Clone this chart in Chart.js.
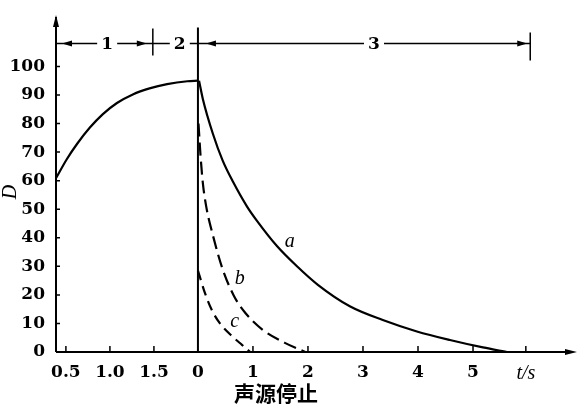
<!DOCTYPE html>
<html>
<head>
<meta charset="utf-8">
<script src="https://cdn.jsdelivr.net/npm/chart.js@4.4.1/dist/chart.umd.min.js"></script>
<style>
    html, body { margin: 0; padding: 0; background: #fff; }
    canvas { display: block; }
</style>
</head>
<body>
<canvas id="chart" width="582" height="414"></canvas>
<script>
// Growth phase: time since the source was switched on (s) and D
const growthT = [0.39, 0.51, 0.63, 0.77, 0.92, 1.08, 1.26, 1.45, 1.65, 1.88, 2.0];
const growthD = [61, 67.5, 73, 78.5, 83.3, 87.2, 90.2, 92.3, 93.8, 94.8, 95];

// Decay after the source stops: time (s) and D for curves a, b, c
const decayAT = [0.02, 0.09, 0.27, 0.45, 0.64, 0.89, 1.07, 1.44, 1.80, 2.18, 2.76, 3.36, 3.98, 4.58, 5.18, 5.62];
const decayAD = [95, 88.5, 76.5, 67, 59.5, 51, 46, 37, 30, 23.5, 16, 11.2, 7.2, 4.2, 1.6, 0];
const decayBT = [0.01, 0.05, 0.09, 0.15, 0.27, 0.44, 0.65, 0.87, 1.18, 1.58, 1.95];
const decayBD = [80, 68, 59, 51, 41, 29.5, 19.8, 13.5, 7.7, 3.2, 0];
const decayCT = [0.0, 0.13, 0.25, 0.4, 0.64, 0.8, 0.95];
const decayCD = [28.5, 20.5, 14.8, 10, 5.2, 2.5, 0];

// Tick labels
const growthTicks = [0.5, 1.0, 1.5];
const growthTickLabels = ['0.5', '1.0', '1.5'];
const decayTicks = [0, 1, 2, 3, 4, 5];
const decayTickLabels = ['0', '1', '2', '3', '4', '5'];
const yTicks = [0, 10, 20, 30, 40, 50, 60, 70, 80, 90, 100];

// Phases marked along the top
const phaseNames = ['1', '2', '3'];
const phaseEdges = [-0.82, 0, 6.04];
const phaseLabelAt = [-1.65, -0.33, 3.2];

// the growth phase is drawn on its own (compressed) time scale left of the stop
const GROWTH_END = 2.0;
const GROWTH_SCALE = 1.6;
const toAxis = t => (t - GROWTH_END) * GROWTH_SCALE;

const X_MIN = -2.58;
const X_MAX = 6.89;
const UNIT_POS = 5.96;   // where "t/s" sits
const PHASE_Y = 108;

const xTickValues = growthTicks.map(toAxis).concat(decayTicks, [UNIT_POS]);
const xTickLabels = growthTickLabels.concat(decayTickLabels, ['t/s']);

const pts = (xs, ys, f = v => v) => xs.map((v, i) => ({ x: f(v), y: ys[i] }));

const TICK_FONT = { family: 'DejaVu Serif', size: 17, weight: 'bold' };
const ITALIC = 'italic 20px "Liberation Serif", serif';

const lineStyle = {
    borderColor: '#000',
    borderWidth: 2.2,
    pointRadius: 0,
    fill: false,
    cubicInterpolationMode: 'monotone'
};

function arrow(ctx, x, y, dir, len = 10, half = 3.5) {
    // dir: 'left' | 'right' | 'up'
    ctx.beginPath();
    if (dir === 'up') {
        ctx.moveTo(x, y);
        ctx.lineTo(x - half, y + len);
        ctx.lineTo(x + half, y + len);
    } else {
        const s = dir === 'left' ? 1 : -1;
        ctx.moveTo(x, y);
        ctx.lineTo(x + s * len, y - half);
        ctx.lineTo(x + s * len, y + half);
    }
    ctx.closePath();
    ctx.fill();
}

const overlay = {
    id: 'overlay',
    afterDatasetsDraw(chart) {
        const { ctx, chartArea } = chart;
        const xs = chart.scales.x;
        const ys = chart.scales.y;
        const x0 = chartArea.left;
        const yBase = ys.getPixelForValue(0);

        ctx.save();
        ctx.strokeStyle = '#000';
        ctx.fillStyle = '#000';
        ctx.lineWidth = 2;

        // axes with arrow heads
        ctx.beginPath();
        ctx.moveTo(x0, yBase);
        ctx.lineTo(x0, chartArea.top + 2);
        ctx.moveTo(x0, yBase);
        ctx.lineTo(chartArea.right - 4, yBase);
        ctx.stroke();
        arrow(ctx, x0, chartArea.top, 'up', 12, 3);
        arrow(ctx, chartArea.right, yBase, 'right', 12, 3);

        // inward tick marks
        ctx.lineWidth = 1.5;
        ctx.beginPath();
        yTicks.forEach(v => {
            if (v === 0) return;
            const py = ys.getPixelForValue(v);
            ctx.moveTo(x0, py);
            ctx.lineTo(x0 + 4, py);
        });
        xTickValues.forEach(v => {
            if (v === 0) return;
            const px = xs.getPixelForValue(v);
            ctx.moveTo(px, yBase);
            ctx.lineTo(px, yBase - 6);
        });
        ctx.stroke();

        // source stops: vertical line at t = 0
        const xStop = xs.getPixelForValue(0);
        ctx.lineWidth = 2;
        ctx.beginPath();
        ctx.moveTo(xStop, yBase);
        ctx.lineTo(xStop, ys.getPixelForValue(113.6));
        ctx.stroke();

        // phase bar along the top
        const py = ys.getPixelForValue(PHASE_Y);
        const edges = [x0].concat(phaseEdges.map(v => xs.getPixelForValue(v)));
        ctx.lineWidth = 1.5;
        ctx.beginPath();
        ctx.moveTo(x0, py);
        ctx.lineTo(edges[3], py);
        ctx.moveTo(edges[1], py - 15);
        ctx.lineTo(edges[1], py + 12);
        ctx.moveTo(edges[3], py - 11);
        ctx.lineTo(edges[3], py + 17);
        ctx.stroke();
        arrow(ctx, edges[0] + 6, py, 'left', 10, 3);
        arrow(ctx, edges[1] - 6, py, 'right', 10, 3);
        arrow(ctx, edges[2] + 8, py, 'left', 10, 3);
        arrow(ctx, edges[3] - 3, py, 'right', 10, 3);

        ctx.font = 'bold 17px "DejaVu Serif"';
        ctx.textAlign = 'center';
        ctx.textBaseline = 'middle';
        phaseNames.forEach((name, i) => {
            const px = xs.getPixelForValue(phaseLabelAt[i]);
            ctx.fillStyle = '#fff';
            ctx.fillRect(px - 10, py - 8, 20, 16);
            ctx.fillStyle = '#000';
            ctx.fillText(name, px, py + 1);
        });

        // curve names
        ctx.font = ITALIC;
        ctx.fillText('a', xs.getPixelForValue(1.67), ys.getPixelForValue(38.5));
        ctx.fillText('b', xs.getPixelForValue(0.76), ys.getPixelForValue(25.5));
        ctx.fillText('c', xs.getPixelForValue(0.67), ys.getPixelForValue(10.5));

        // axis titles
        ctx.font = 'bold 21px "Noto Sans CJK SC"';
        ctx.fillText('声源停止', 276, 393);
        ctx.save();
        ctx.translate(11, 192);
        ctx.rotate(-Math.PI / 2);
        ctx.font = ITALIC;
        ctx.fillText('D', 0, 0);
        ctx.restore();

        ctx.restore();
    }
};

new Chart(document.getElementById('chart'), {
    type: 'line',
    data: {
        datasets: [
            { ...lineStyle, data: pts(growthT, growthD, toAxis) },
            { ...lineStyle, data: pts(decayAT, decayAD) },
            { ...lineStyle, data: pts(decayBT, decayBD), borderDash: [13, 6] },
            { ...lineStyle, data: pts(decayCT, decayCD), borderDash: [10, 6] }
        ]
    },
    options: {
        responsive: false,
        animation: false,
        devicePixelRatio: 1,
        layout: { padding: { top: 15, right: 5, left: 0, bottom: 0 } },
        plugins: {
            legend: { display: false },
            tooltip: { enabled: false }
        },
        scales: {
            x: {
                type: 'linear',
                min: X_MIN,
                max: X_MAX,
                border: { display: false },
                grid: { display: false },
                afterBuildTicks: scale => {
                    scale.ticks = xTickValues.map(v => ({ value: v }));
                },
                afterFit: scale => { scale.height = 62; },
                ticks: {
                    autoSkip: false,
                    maxRotation: 0,
                    padding: 2,
                    color: '#000',
                    font: ctx => ctx.index === xTickLabels.length - 1
                        ? { family: 'Liberation Serif', size: 20, style: 'italic', weight: 'normal' }
                        : TICK_FONT,
                    callback: (value, index) => xTickLabels[index]
                }
            },
            y: {
                min: 0,
                max: 118,
                border: { display: false },
                grid: { display: false },
                afterBuildTicks: scale => {
                    scale.ticks = yTicks.map(v => ({ value: v }));
                },
                afterFit: scale => { scale.width = 56; },
                ticks: {
                    padding: 3,
                    color: '#000',
                    font: TICK_FONT
                }
            }
        }
    },
    plugins: [overlay]
});
</script>
</body>
</html>
